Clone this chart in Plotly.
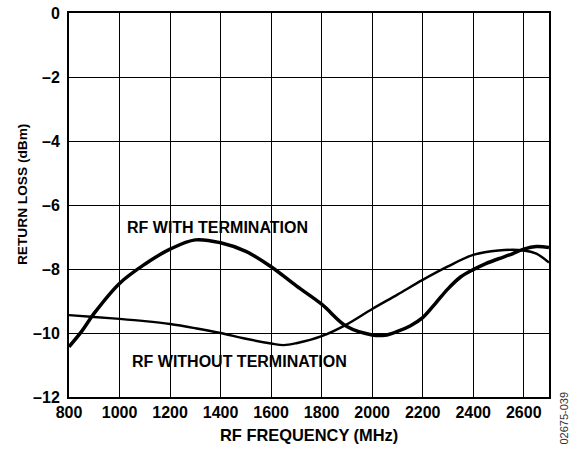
import plotly.graph_objects as go

# RF WITH TERMINATION (thick curve)
freq_with = [800, 850, 900, 1000, 1100, 1200, 1300, 1400, 1500, 1600, 1700, 1800,
             1900, 2000, 2050, 2100, 2150, 2200, 2250, 2300, 2350, 2400, 2450, 2500,
             2550, 2600, 2650, 2700]
rl_with = [-10.43, -9.95, -9.38, -8.45, -7.85, -7.38, -7.09, -7.18, -7.45, -7.93, -8.53, -9.1,
           -9.8, -10.06, -10.07, -9.95, -9.78, -9.52, -9.08, -8.62, -8.25, -8.02, -7.83, -7.68,
           -7.54, -7.38, -7.3, -7.33]

# RF WITHOUT TERMINATION (thin curve)
freq_without = [800, 900, 1000, 1100, 1200, 1300, 1400, 1500, 1600, 1650, 1700, 1800,
                1900, 2000, 2100, 2200, 2300, 2400, 2500, 2600, 2650, 2700]
rl_without = [-9.44, -9.5, -9.56, -9.63, -9.72, -9.85, -10.0, -10.18, -10.33, -10.38, -10.32, -10.1,
              -9.73, -9.25, -8.8, -8.34, -7.92, -7.56, -7.42, -7.42, -7.52, -7.8]

x_ticks = [800, 1000, 1200, 1400, 1600, 1800, 2000, 2200, 2400, 2600]
y_ticks = [0, -2, -4, -6, -8, -10, -12]
y_ticktext = ["0", "–2", "–4", "–6", "–8", "–10", "–12"]

FONT = "Liberation Sans, Arial, sans-serif"

fig = go.Figure()
fig.add_trace(go.Scatter(x=freq_without, y=rl_without, mode="lines",
                         line=dict(color="black", width=2.4, shape="spline"),
                         showlegend=False))
fig.add_trace(go.Scatter(x=freq_with, y=rl_with, mode="lines",
                         line=dict(color="black", width=3.5, shape="spline"),
                         showlegend=False))

fig.update_layout(
    width=582, height=452,
    margin=dict(l=69, r=33, t=13, b=55, autoexpand=False),
    paper_bgcolor="white", plot_bgcolor="white",
    font=dict(family=FONT, color="black"),
    xaxis=dict(range=[800, 2700], tickvals=x_ticks, ticktext=[str(v) for v in x_ticks],
               showgrid=True, gridcolor="black", gridwidth=1, automargin=False,
               showline=True, linecolor="black", linewidth=2, mirror=True,
               ticks="", tickfont=dict(family=FONT, size=16, color="black", weight="bold"),
               zeroline=False),
    yaxis=dict(range=[-12, 0], tickvals=y_ticks, ticktext=y_ticktext,
               showgrid=True, gridcolor="black", gridwidth=1, automargin=False,
               showline=True, linecolor="black", linewidth=2, mirror=True,
               ticks="", ticklabelstandoff=4,
               tickfont=dict(family=FONT, size=16, color="black", weight="bold"),
               zeroline=False),
    annotations=[
        dict(text="<b>RF WITH TERMINATION</b>", x=1388, y=-6.69, xref="x", yref="y",
             showarrow=False, font=dict(family=FONT, size=16, color="black")),
        dict(text="<b>RF WITHOUT TERMINATION</b>", x=1473, y=-10.9, xref="x", yref="y",
             showarrow=False, font=dict(family=FONT, size=16, color="black")),
        dict(text="<b>RF FREQUENCY (MHz)</b>", x=0.5, y=0, xref="paper", yref="paper",
             yanchor="middle", yshift=-38, showarrow=False,
             font=dict(family=FONT, size=16.4, color="black")),
        dict(text="<b>RETURN LOSS (dBm)</b>", x=0, y=0.526, xref="paper", yref="paper",
             xanchor="center", yanchor="middle", xshift=-47, textangle=-90, showarrow=False,
             font=dict(family=FONT, size=13.7, color="black")),
        dict(text="02675-039", x=1, y=0, xref="paper", yref="paper",
             xanchor="center", yanchor="middle", xshift=14, yshift=-21.5, textangle=-90,
             showarrow=False, font=dict(family=FONT, size=11, color="#333333")),
    ],
)

fig.write_html("out.html", config={"displayModeBar": False},
               post_script="document.body.style.margin='0';")
